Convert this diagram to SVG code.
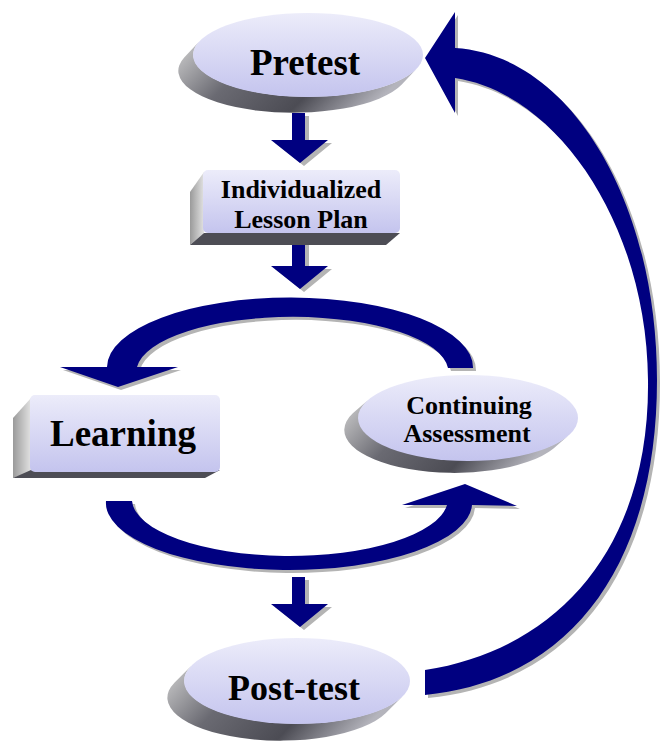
<svg xmlns="http://www.w3.org/2000/svg" xmlns:xlink="http://www.w3.org/1999/xlink" width="660" height="741" viewBox="0 0 660 741">
<style>
.lbl{font-family:"Liberation Serif","Times New Roman",serif;font-weight:bold;fill:#000;text-anchor:middle}
.face{fill:url(#faceGrad)}
.ext{fill:url(#extGrad)}
.side{fill:url(#sideGrad)}
.bottom{fill:#4d4d55}
.arrow{fill:#000080}
.shadow{fill:#b4b4b4}
</style>
<defs>
<linearGradient id="faceGrad" x1="0" y1="0" x2="0" y2="1">
<stop offset="0" stop-color="#ececfa"/>
<stop offset="1" stop-color="#c4c4ee"/>
</linearGradient>
<linearGradient id="extGrad" x1="0" y1="0" x2="1" y2="0.3">
<stop offset="0" stop-color="#d0d0d0"/>
<stop offset="0.35" stop-color="#6a6a72"/>
<stop offset="0.7" stop-color="#4c4c54"/>
<stop offset="1" stop-color="#b4b4bc"/>
</linearGradient>
<linearGradient id="sideGrad" x1="0" y1="0" x2="1" y2="0">
<stop offset="0" stop-color="#9a9a9a"/>
<stop offset="1" stop-color="#e2e2e2"/>
</linearGradient>
<path id="down" d="M-8,-50 H5 V-23 H28 L0,0 L-29,-23 H-8 Z"/>
<path id="arcTop" d="M473,368 A183,70 0 0 0 107,367 L60,367 L118,387 L178,367 L137,367 A156,55 0 0 1 448,368 Z"/>
<path id="arcBottom" d="M106,501 H132 A158,57 0 0 0 447,505 L402,505 L465,484 L517,506 L472,505 A183,67 0 0 1 106,501 Z"/>
<path id="bigArrow" d="M455,48 V12 L425,58 L455,113 V78 C560,94 647,228 648,380 C650,540 565,648 425,670 V695 C575,680 657,560 657,380 C657,200 570,55 455,48 Z"/>
</defs>

<g id="connectors">
<use xlink:href="#down" class="shadow" transform="translate(304,166)"/>
<use xlink:href="#down" class="arrow" transform="translate(300,163)"/>
<use xlink:href="#down" class="shadow" transform="translate(304,292)"/>
<use xlink:href="#down" class="arrow" transform="translate(300,289)"/>
<use xlink:href="#down" class="shadow" transform="translate(304,630)"/>
<use xlink:href="#down" class="arrow" transform="translate(300,627)"/>
<use xlink:href="#arcTop" class="shadow" transform="translate(3,3)"/>
<use xlink:href="#arcTop" class="arrow"/>
<use xlink:href="#arcBottom" class="shadow" transform="translate(3,3)"/>
<use xlink:href="#arcBottom" class="arrow"/>
<use xlink:href="#bigArrow" class="shadow" transform="translate(3,3)"/>
<use xlink:href="#bigArrow" class="arrow"/>
</g>

<g id="pretest">
<path class="ext" d="M416.8,68.6 L401.8,84.6 A115,42 0 0 1 184.2,57.4 L199.2,41.4 A115,42 0 0 0 416.8,68.6 Z"/>
<ellipse class="face" cx="308" cy="55" rx="115" ry="42"/>
<text class="lbl" x="305" y="75" font-size="37">Pretest</text>
</g>

<g id="lesson-plan">
<polygon class="side" points="204,172 190,192 190,245 204,233"/>
<polygon class="bottom" points="190,245 386,245 400,233 204,233"/>
<rect class="face" x="203" y="170" width="197" height="63" rx="5"/>
<text class="lbl" x="301" y="198" font-size="26">Individualized</text>
<text class="lbl" x="301" y="228" font-size="26">Lesson Plan</text>
</g>

<g id="learning">
<polygon class="side" points="31,398 13,418 13,478 31,472"/>
<polygon class="bottom" points="13,478 205,478 220,470 31,470"/>
<rect class="face" x="30" y="395" width="190" height="77" rx="5"/>
<text class="lbl" x="123" y="446" font-size="37">Learning</text>
</g>

<g id="continuing-assessment">
<path class="ext" d="M568.2,435.7 L553.2,448.7 A110,43 0 0 1 352.8,413.3 L367.8,400.3 A110,43 0 0 0 568.2,435.7 Z"/>
<ellipse class="face" cx="468" cy="418" rx="110" ry="43"/>
<text class="lbl" x="469" y="414" font-size="26">Continuing</text>
<text class="lbl" x="467" y="442" font-size="26">Assessment</text>
</g>

<g id="post-test">
<path class="ext" d="M402.6,696.3 L385.6,713.3 A113,43 0 0 1 174.4,682.7 L191.4,665.7 A113,43 0 0 0 402.6,696.3 Z"/>
<ellipse class="face" cx="297" cy="681" rx="113" ry="43"/>
<text class="lbl" x="294" y="700" font-size="36">Post-test</text>
</g>
</svg>
